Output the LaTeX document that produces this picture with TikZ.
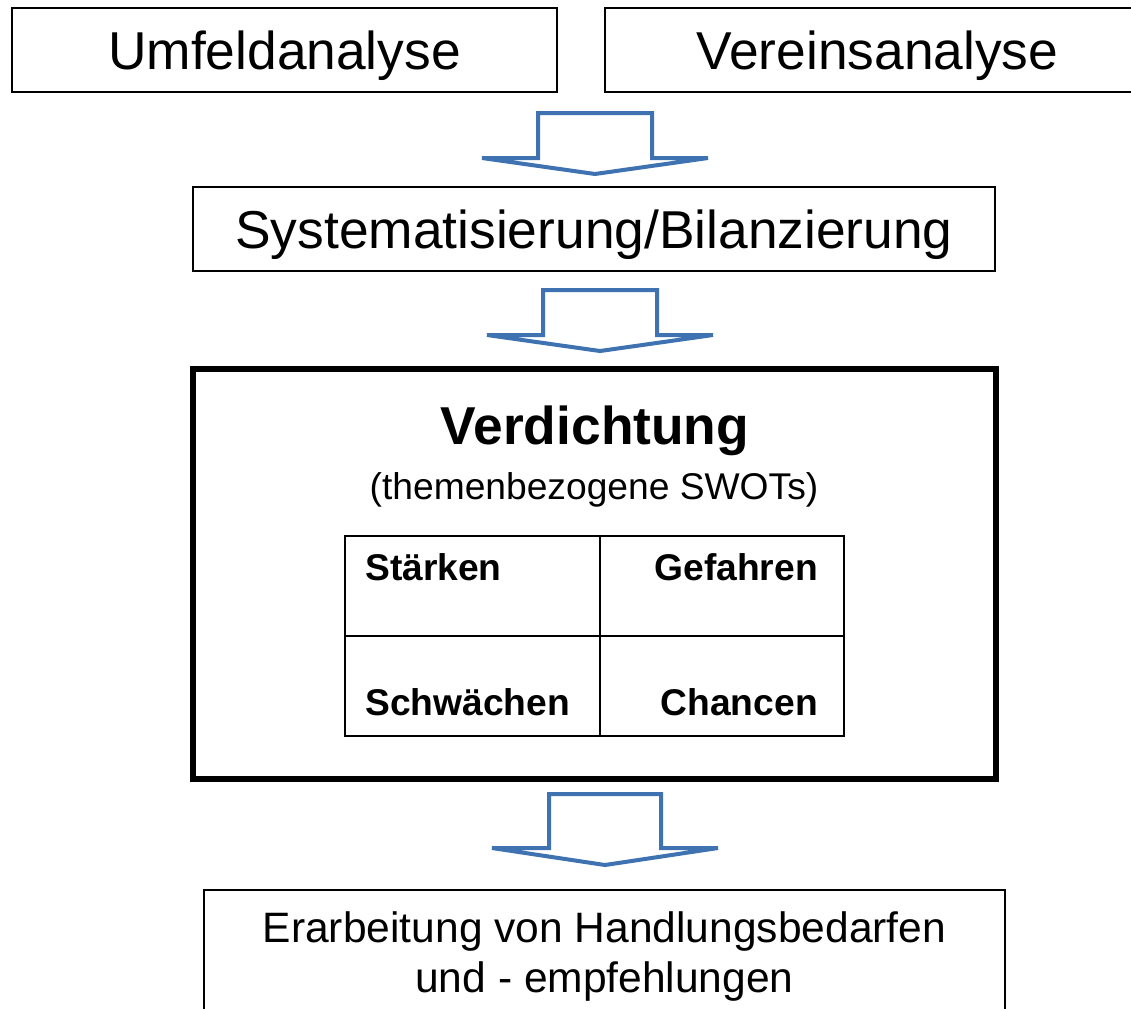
\documentclass[tikz,border=0pt]{standalone}
\usepackage{fontspec}
\setmainfont{Liberation Sans}
\definecolor{arrowblue}{RGB}{62,114,176}
\tikzset{
  box/.style={draw=black, line width=1.6pt, fill=white, inner sep=0pt},
  bigbox/.style={draw=black, line width=3.8pt, inner sep=0pt},
  cell/.style={draw=black, line width=1.1pt},
  bigtext/.style={font=\fontsize{40}{46}\selectfont, inner sep=0pt},
  celltext/.style={font=\fontsize{27.9}{32}\selectfont\bfseries, inner sep=0pt},
  blockarrow/.style={draw=arrowblue, line width=3pt, line join=miter, fill=white},
  pics/downarrow/.style={code={
    \draw[blockarrow] (-57,0) -- (57,0) -- (57,45) -- (113,45) -- (0,61) -- (-113,45) -- (-57,45) -- cycle;
  }},
  pics/longarrow/.style={code={
    \draw[blockarrow] (-56,0) -- (56,0) -- (56,54) -- (113,54) -- (0,71) -- (-113,54) -- (-56,54) -- cycle;
  }}
}
\begin{document}
\begin{tikzpicture}[x=0.75pt,y=-0.75pt]
\useasboundingbox (0,0) rectangle (1131,1008);
\clip (0,0) rectangle (1131,1008);

\node[box, minimum width=545*0.75pt, minimum height=84*0.75pt] (umfeld) at (284.5,50) {};
\node[bigtext, yshift=-4pt] (umfeldt) at (umfeld.center) {Umfeldanalyse};
\node[box, minimum width=545*0.75pt, minimum height=84*0.75pt] (verein) at (877.5,50) {};
\node[bigtext, yshift=-4pt] (vereint) at (verein.center) {Vereinsanalyse};

\pic at (595,113) {downarrow};

\node[box, minimum width=802*0.75pt, minimum height=84*0.75pt] (syst) at (594,229) {};
\node[bigtext, yshift=-4pt] (systt) at (syst.center) {Systematisierung/Bilanzierung};

\pic at (600,290) {downarrow};

\node[bigbox, minimum width=803*0.75pt, minimum height=410*0.75pt] (verd) at (594.5,574) {};
\node[font=\fontsize{40}{46}\selectfont\bfseries, inner sep=0pt] (verdt) at (595,431) {Verdichtung};
\node[font=\fontsize{27.9}{32}\selectfont, inner sep=0pt] (verds) at (594,490) {(themenbezogene SWOTs)};

\coordinate (tl) at (345,536);
\coordinate (br) at (844,736);
\draw[cell] (tl) rectangle (br);
\coordinate (vt) at (600,536);
\coordinate (vb) at (600,736);
\coordinate (hl) at (345,636);
\coordinate (hr) at (844,636);
\draw[cell] (vt) -- (vb);
\draw[cell] (hl) -- (hr);

\node[celltext, anchor=base west] (st) at (365,580) {Stärken};
\node[celltext, anchor=base east] (ge) at (818,580) {Gefahren};
\node[celltext, anchor=base west] (sc) at (365,715) {Schwächen};
\node[celltext, anchor=base east] (ch) at (818,715) {Chancen};

\pic at (605,794) {longarrow};

\coordinate (el) at (204,1020);
\coordinate (etl) at (204,890);
\coordinate (etr) at (1005,890);
\coordinate (er) at (1005,1020);
\draw[line width=1.6pt] (el) -- (etl) -- (etr) -- (er);
\node[font=\fontsize{31.9}{37.5}\selectfont, align=center, inner sep=0pt, anchor=north] (erart) at (604.5,911) {Erarbeitung von Handlungsbedarfen\\und - empfehlungen};
\end{tikzpicture}
\end{document}
